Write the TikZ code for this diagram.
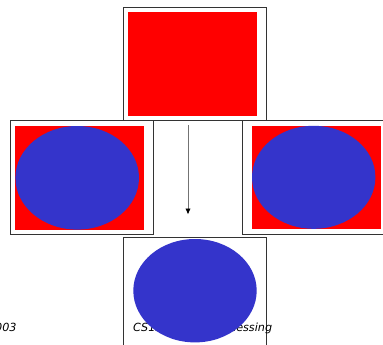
\documentclass[tikz,border=0pt]{standalone}
\usepackage{fontspec}
\setsansfont{DejaVu Sans}
\usetikzlibrary{arrows.meta}
\begin{document}
\begin{tikzpicture}[x=1pt,y=-1pt,
  frame/.style={draw=black!80,line width=0.9pt,fill=white},
  redfill/.style={fill=red,draw=none},
  blob/.style={fill=blueE,draw=none},
  foot/.style={font=\sffamily\itshape\fontsize{11.2}{13}\selectfont,anchor=base west,inner sep=0pt}]
\definecolor{blueE}{HTML}{3434CB}
\useasboundingbox (0,0) rectangle (383,345);
% top box
\draw[frame] (123.7,7.3) rectangle (266.7,120.7);
\fill[redfill] (128,12) rectangle (257,115.7);
% left box
\draw[frame] (10.7,120.7) rectangle (153.3,234);
\fill[redfill] (15,126) rectangle (144,229.7);
\fill[blob] (77.2,177.8) ellipse [x radius=61.8, y radius=51.8];
% right box
\draw[frame] (242,120.7) rectangle (392,234);
\fill[redfill] (252,126) rectangle (381,228.7);
\fill[blob] (313.7,177.3) ellipse [x radius=61.7, y radius=51.5];
% arrow
\coordinate (a1) at (188,125.3);
\coordinate (a2) at (188,214.5);
\draw[black!55,line width=0.9pt,-{Latex[black,length=6pt,width=5.5pt]}] (a1) -- (a2);
% bottom box
\draw[frame] (123.7,237.3) rectangle (266.7,360);
\node[foot] (f1) at (-5,331) {003};
\node[foot] (f2) at (133,331) {CS152 Image Processing};
\fill[blob] (195,290.7) ellipse [x radius=61.7, y radius=51.7];
\end{tikzpicture}
\end{document}
